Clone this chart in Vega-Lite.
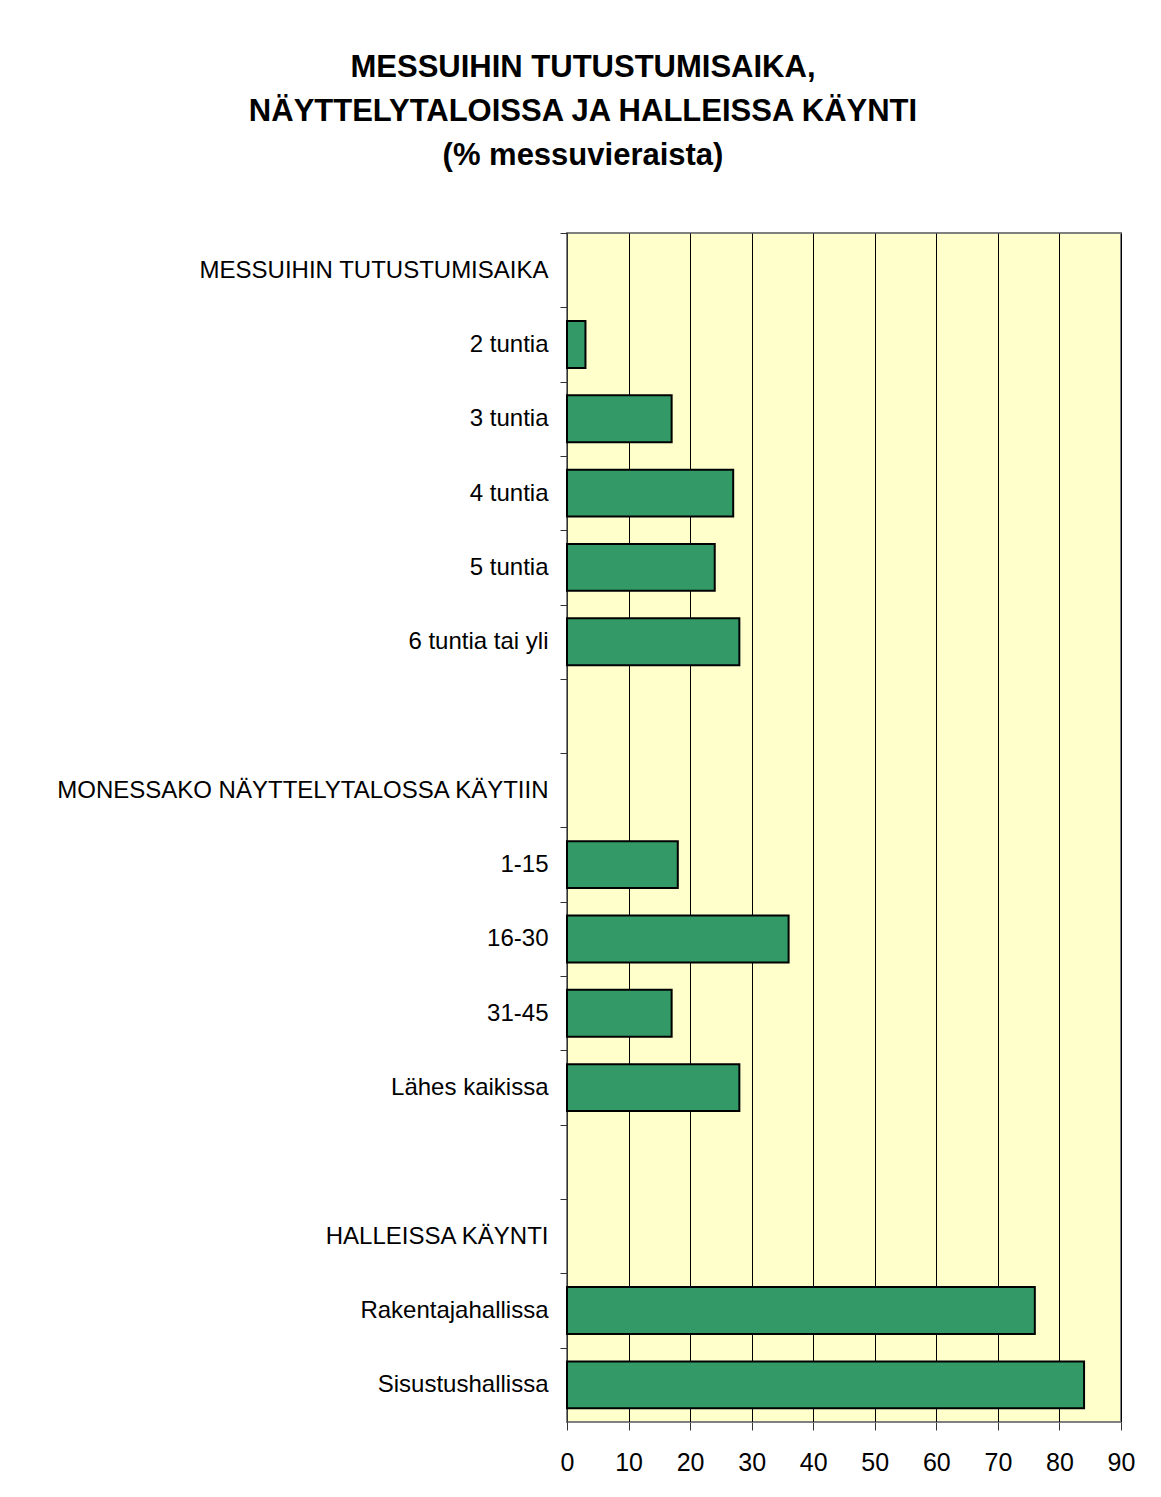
{
  "$schema": "https://vega.github.io/schema/vega-lite/v6.json",
  "width": 554,
  "height": 1189,
  "autosize": {"type": "none"},
  "padding": {"left": 567, "top": 233, "right": 40, "bottom": 75},
  "background": "white",
  "title": {
    "text": ["MESSUIHIN TUTUSTUMISAIKA,", "NÄYTTELYTALOISSA JA HALLEISSA KÄYNTI", "(% messuvieraista)"],
    "font": "Liberation Sans",
    "fontSize": 31,
    "fontWeight": "bold",
    "color": "black",
    "anchor": "middle",
    "frame": "group",
    "dx": -261,
    "lineHeight": 44,
    "offset": 61
  },
  "data": {
    "values": [
      {"cat": "MESSUIHIN TUTUSTUMISAIKA", "value": null},
      {"cat": "2 tuntia", "value": 3},
      {"cat": "3 tuntia", "value": 17},
      {"cat": "4 tuntia", "value": 27},
      {"cat": "5 tuntia", "value": 24},
      {"cat": "6 tuntia tai yli", "value": 28},
      {"cat": " ", "value": null},
      {"cat": "MONESSAKO NÄYTTELYTALOSSA KÄYTIIN", "value": null},
      {"cat": "1-15", "value": 18},
      {"cat": "16-30", "value": 36},
      {"cat": "31-45", "value": 17},
      {"cat": "Lähes kaikissa", "value": 28},
      {"cat": "  ", "value": null},
      {"cat": "HALLEISSA KÄYNTI", "value": null},
      {"cat": "Rakentajahallissa", "value": 76},
      {"cat": "Sisustushallissa", "value": 84}
    ]
  },
  "mark": {"type": "bar", "fill": "#339966", "stroke": "black", "strokeWidth": 2},
  "encoding": {
    "y": {
      "field": "cat",
      "type": "nominal",
      "sort": ["MESSUIHIN TUTUSTUMISAIKA", "2 tuntia", "3 tuntia", "4 tuntia", "5 tuntia", "6 tuntia tai yli", " ", "MONESSAKO NÄYTTELYTALOSSA KÄYTIIN", "1-15", "16-30", "31-45", "Lähes kaikissa", "  ", "HALLEISSA KÄYNTI", "Rakentajahallissa", "Sisustushallissa"],
      "scale": {"paddingInner": 0.37, "paddingOuter": 0.185},
      "axis": {
        "title": null,
        "bandPosition": 0,
        "tickOffset": -13.75,
        "labelOffset": 13.75,
        "tickSize": 7,
        "tickColor": "#333333",
        "domainColor": "#333333",
        "labelPadding": 12,
        "labelFont": "Liberation Sans",
        "labelFontSize": 24,
        "labelColor": "black",
        "labelLimit": 0,
        "grid": false
      }
    },
    "x": {
      "field": "value",
      "type": "quantitative",
      "scale": {"domain": [0, 90], "nice": false},
      "axis": {
        "title": null,
        "values": [0, 10, 20, 30, 40, 50, 60, 70, 80, 90],
        "tickSize": 8,
        "tickColor": "#333333",
        "domainColor": "#808080",
        "labelPadding": 20,
        "labelFont": "Liberation Sans",
        "labelFontSize": 25,
        "labelColor": "black",
        "labelFlush": false,
        "grid": true,
        "gridColor": "black",
        "gridWidth": 1,
        "gridOpacity": 1
      }
    }
  },
  "config": {
    "view": {"fill": "#FFFFCC", "stroke": "#808080", "strokeWidth": 2}
  }
}
